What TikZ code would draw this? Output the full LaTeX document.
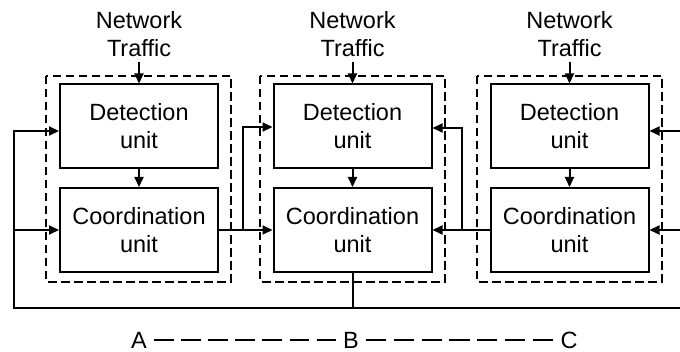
\documentclass[tikz,border=0pt]{standalone}
\usepackage{fontspec}
\setmainfont{Liberation Sans}
\usetikzlibrary{arrows.meta}
\begin{document}
\begin{tikzpicture}[x=1pt,y=-1pt,
  txt/.style={font=\fontsize{23.5}{28}\selectfont},
  unitbox/.style={txt,draw,line width=2pt,minimum width=158pt,minimum height=84pt,inner sep=0pt,align=center},
  grp/.style={draw,line width=1.4pt,dash pattern=on 8.5pt off 4.5pt},
  lbl/.style={txt,align=center},
  conn/.style={line width=2pt},
  arr/.style={conn,-{Triangle[length=10pt,width=9pt]}},
  abc/.style={line width=2pt,shorten <=7pt,shorten >=7pt}
]
\useasboundingbox (0,0) rectangle (680,352);
% groups
\draw[grp] (46,76) rectangle (231,282);
\draw[grp] (260,76) rectangle (445,282);
\draw[grp] (477,76) rectangle (662,282);
% units
\node[unitbox] (d1) at (139,126.5) {Detection\\unit};
\node[unitbox] (c1) at (139,230) {Coordination\\unit};
\node[unitbox] (d2) at (352.5,126.5) {Detection\\unit};
\node[unitbox] (c2) at (352.5,230) {Coordination\\unit};
\node[unitbox] (d3) at (569.5,126.5) {Detection\\unit};
\node[unitbox] (c3) at (569.5,230) {Coordination\\unit};
% traffic labels
\node[lbl] (t1) at (139,34) {Network\\Traffic};
\node[lbl] (t2) at (352.5,34) {Network\\Traffic};
\node[lbl] (t3) at (569.5,34) {Network\\Traffic};
\coordinate (t1a) at (139,62);
\coordinate (t2a) at (352.5,62);
\coordinate (t3a) at (569.5,62);
\draw[arr] (t1a) -- (d1.north);
\draw[arr] (t2a) -- (d2.north);
\draw[arr] (t3a) -- (d3.north);
% internal
\draw[arr] (d1.south) -- (c1.north);
\draw[arr] (d2.south) -- (c2.north);
\draw[arr] (d3.south) -- (c3.north);
% bus
\coordinate (lb) at (14,308);
\coordinate (rb) at (680,308);
\coordinate (lt) at (14,131);
\draw[conn] (c2.south) -- (c2.south |- lb);
\draw[arr] (rb) -- (lb) -- (lt) -- (lt -| d1.west);
\draw[arr] (c1.west -| lb) -- (c1.west);
% middle left
\coordinate (m1) at (243,127);
\draw[arr] (c1.east) -- (c2.west);
\draw[arr] (c1.east -| m1) -- (m1) -- (m1 -| d2.west);
% middle right
\coordinate (m2) at (462,128);
\draw[arr] (c3.west) -- (c2.east);
\draw[arr] (c3.west -| m2) -- (m2) -- (m2 -| d2.east);
% right edge
\coordinate (r1) at (680,131);
\draw[arr] (r1) -- (r1 -| d3.east);
\draw[arr] (c3.east -| rb) -- (c3.east);
% A B C
\node[lbl,inner sep=0pt] (A) at (139,340) {A};
\node[lbl,inner sep=0pt] (B) at (351,340) {B};
\node[lbl,inner sep=0pt] (C) at (569,340) {C};
\draw[abc,dash pattern=on 19.5pt off 7.6pt] (A) -- (B);
\draw[abc,dash pattern=on 20.2pt off 7.6pt] (B) -- (C);
\end{tikzpicture}
\end{document}
